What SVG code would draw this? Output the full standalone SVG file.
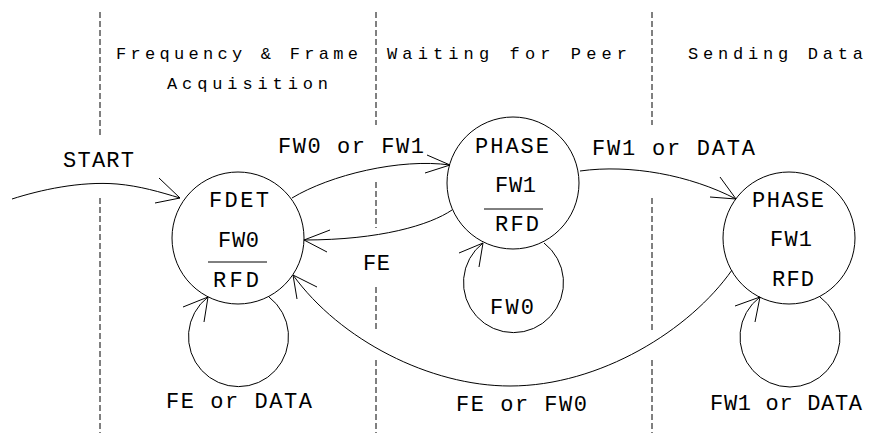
<svg xmlns="http://www.w3.org/2000/svg" width="873" height="433" viewBox="0 0 873 433">
<style>
.bg{fill:#fff}
.ln{fill:none;stroke:#000;stroke-width:1}
.dash{fill:none;stroke:#000;stroke-width:1;stroke-dasharray:6 3}
.node{fill:none;stroke:#000;stroke-width:1}
text{font-family:"Liberation Mono","DejaVu Sans Mono",monospace;fill:#000}
.t{font-size:17px}
.l{font-size:22px}
</style>
<rect class="bg" width="873" height="433"/>
<g id="lanes">
<path class="dash" d="M100,12 V135 M100,198 V433"/>
<path class="dash" d="M376,12 V125 M376,182 V228 M376,287 V332 M376,360 V433"/>
<path class="dash" d="M652,12 V125 M652,198 V332 M652,360 V433"/>
<text class="t" x="116" y="59" textLength="242" lengthAdjust="spacing">Frequency &amp; Frame</text>
<text class="t" x="167" y="89" textLength="161" lengthAdjust="spacing">Acquisition</text>
<text class="t" x="387" y="59" textLength="240" lengthAdjust="spacing">Waiting for Peer</text>
<text class="t" x="688" y="59" textLength="175" lengthAdjust="spacing">Sending Data</text>
</g>
<g id="node-fdet">
<circle class="node" cx="238" cy="238" r="66"/>
<text class="l" x="209" y="207" textLength="60" lengthAdjust="spacing">FDET</text>
<text class="l" x="218" y="247" textLength="41" lengthAdjust="spacing">FW0</text>
<path class="ln" d="M208,262 H267"/>
<text class="l" x="213" y="287" textLength="46" lengthAdjust="spacing">RFD</text>
</g>
<g id="node-phase-wait">
<circle class="node" cx="513" cy="183" r="66"/>
<text class="l" x="475" y="153" textLength="74" lengthAdjust="spacing">PHASE</text>
<text class="l" x="495" y="192" textLength="41" lengthAdjust="spacing">FW1</text>
<path class="ln" d="M484,209 H543"/>
<text class="l" x="495" y="231" textLength="44" lengthAdjust="spacing">RFD</text>
</g>
<g id="node-phase-send">
<circle class="node" cx="789" cy="238" r="66"/>
<text class="l" x="752" y="207" textLength="72" lengthAdjust="spacing">PHASE</text>
<text class="l" x="770" y="246" textLength="42" lengthAdjust="spacing">FW1</text>
<text class="l" x="772" y="286" textLength="42" lengthAdjust="spacing">RFD</text>
</g>
<g id="connectors">
<path class="ln" d="M12,199 C40,190 80,181 117,184 C140,186 160,192 180,198"/>
<path class="ln" d="M159,178 L180,198 L155,203"/>
<text class="l" x="63" y="167" textLength="71" lengthAdjust="spacing">START</text>

<path class="ln" d="M292,198 C330,175 400,158 450,165"/>
<path class="ln" d="M427,155 L450,165 L425,173"/>
<text class="l" x="278" y="153" textLength="146" lengthAdjust="spacing">FW0 or FW1</text>

<path class="ln" d="M452,210 C430,225 380,240 304,240"/>
<path class="ln" d="M330,230 L304,240 L327,252"/>
<text class="l" x="363" y="270" textLength="27" lengthAdjust="spacing">FE</text>

<path class="ln" d="M580,171 C630,164 690,175 736,199"/>
<path class="ln" d="M720,177 L736,199 L710,197"/>
<text class="l" x="592" y="155" textLength="163" lengthAdjust="spacing">FW1 or DATA</text>

<path class="ln" d="M732,270 C690,330 600,386 510,386 C430,386 340,340 293,275"/>
<path class="ln" d="M317,287 L293,275 L297,299"/>
<text class="l" x="456" y="411" textLength="131" lengthAdjust="spacing">FE or FW0</text>

<path class="ln" d="M269,297 A50,50 0 1 1 208,297"/>
<path class="ln" d="M183,307 L208,297 L204,322"/>
<text class="l" x="166" y="408" textLength="146" lengthAdjust="spacing">FE or DATA</text>

<path class="ln" d="M544,243 A50,50 0 1 1 483,243"/>
<path class="ln" d="M459,253 L483,243 L479,267"/>
<text class="l" x="490" y="314" textLength="44" lengthAdjust="spacing">FW0</text>

<path class="ln" d="M820,297 A50,50 0 1 1 760,297"/>
<path class="ln" d="M735,306 L760,297 L755,322"/>
<text class="l" x="710" y="410" textLength="152" lengthAdjust="spacing">FW1 or DATA</text>
</g>
</svg>
